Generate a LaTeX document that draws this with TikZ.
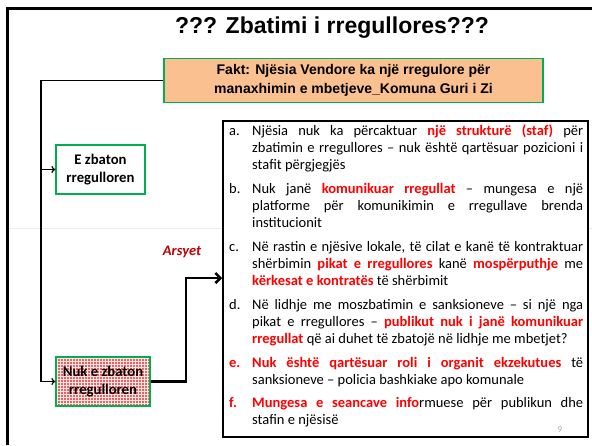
\documentclass[tikz,border=0pt]{standalone}
\usepackage{fontspec}
\setmainfont{Carlito}
\newfontfamily\arialfont{Liberation Sans}
\usetikzlibrary{arrows.meta,patterns}
\definecolor{grn}{RGB}{0,176,80}
\definecolor{peach}{RGB}{250,192,144}
\definecolor{rd}{RGB}{255,0,0}
\definecolor{drd}{RGB}{192,0,0}
\definecolor{pinkred}{RGB}{238,96,96}
\newcommand{\redb}[1]{\textcolor{rd}{\bfseries #1}}
\newcommand{\jl}[1]{\makebox[331pt][s]{#1}}
\tikzset{
  txt/.style={anchor=mid west, inner sep=0pt, font=\fontsize{14.5}{17}\selectfont},
  greenbox/.style={draw=grn, line width=1.2pt, inner sep=0pt, align=center},
  thin/.style={line width=1.2pt, -{To[length=4pt,width=7pt]}},
  thick/.style={line width=2.6pt, -{Straight Barb[length=5pt,width=10pt]}}
}
\begin{document}
\begin{tikzpicture}[x=1pt,y=-1pt]
\useasboundingbox (0,0) rectangle (592,445);
\fill[white] (0,0) rectangle (592,445);
% faint grid line
\draw[gray!15, line width=0.6pt] (7,228) -- (592,228);
% frame
\draw[line width=3pt] (7,445) -- (7,8) -- (592,8);
% title
\node[inner sep=0pt, font=\arialfont\bfseries\fontsize{23}{26}\selectfont] (title) at (332,28) {??? Zbatimi i rregullores???};
% fakt box
\node[greenbox, fill=peach, minimum width=379pt, minimum height=44pt,
      font=\arialfont\bfseries\fontsize{14}{19.7}\selectfont] (fakt) at (353.5,80.5)
      {Fakt: Njësia Vendore ka një rregulore për\\manaxhimin e mbetjeve\_Komuna Guri i Zi};
% E zbaton
\node[greenbox, fill=white, minimum width=89pt, minimum height=49pt,
      font=\bfseries\fontsize{14.7}{18.3}\selectfont] (ez) at (100.5,169.5) {E zbaton\\rregulloren};
% Nuk e zbaton
\fill[pinkred] (56,357) rectangle (150,406);
\fill[pattern=grid, pattern color=white!85!pinkred] (56,357) rectangle (150,406);
\node[greenbox, minimum width=94pt, minimum height=49pt,
      font=\bfseries\fontsize{14.7}{18.3}\selectfont] (nuk) at (103,381.5) {Nuk e zbaton\\rregulloren};
% right box
\node[draw=black, line width=1.5pt, fill=white, minimum width=365pt, minimum height=316pt, inner sep=0pt] (rb) at (405.5,279) {};
% connectors
\coordinate (j1) at (41,80.5);
\coordinate (j2) at (41,169.5);
\coordinate (j3) at (41,381.5);
\draw[line width=1.2pt] (fakt.west) -- (j1) -- (j3);
\draw[thin] (j2) -- (ez.west);
\draw[thin] (j3) -- (nuk.west);
\coordinate (k1) at (186,381.5);
\coordinate (k2) at (186,278);
\coordinate (k3) at (rb.west |- k2);
\draw[thick] (nuk.east) -- (k1) -- (k2) -- (k3);
\node[inner sep=0pt, text=drd, font=\bfseries\itshape\fontsize{14.5}{17}\selectfont] (arsyet) at (182,252) {Arsyet};
% labels
\node[txt] (la) at (229,132.7) {a.};
\node[txt] (lb) at (229,190.7) {b.};
\node[txt] (lc) at (229,248.7) {c.};
\node[txt] (ld) at (229,306.7) {d.};
\node[txt, text=rd, font=\bfseries\fontsize{14.5}{17}\selectfont] (le) at (229,364.7) {e.};
\node[txt, text=rd, font=\bfseries\fontsize{14.5}{17}\selectfont] (lf) at (229,405.3) {f.};
% a
\node[txt] (a1) at (252,132.7) {\jl{Njësia nuk ka përcaktuar \redb{një strukturë (staf)} për}};
\node[txt] (a2) at (252,150) {\jl{zbatimin e rregullores – nuk është qartësuar pozicioni i}};
\node[txt] (a3) at (252,167.3) {stafit përgjegjës};
% b
\node[txt] (b1) at (252,190.7) {\jl{Nuk janë \redb{komunikuar rregullat} – mungesa e një}};
\node[txt] (b2) at (252,208) {\jl{platforme për komunikimin e rregullave brenda}};
\node[txt] (b3) at (252,225.3) {institucionit};
% c
\node[txt] (c1) at (252,248.7) {\jl{Në rastin e njësive lokale, të cilat e kanë të kontraktuar}};
\node[txt] (c2) at (252,266) {\jl{shërbimin \redb{pikat e rregullores} kanë \redb{mospërputhje} me}};
\node[txt] (c3) at (252,283.3) {\redb{kërkesat e kontratës} të shërbimit};
% d
\node[txt] (d1) at (252,306.7) {\jl{Në lidhje me moszbatimin e sanksioneve – si një nga}};
\node[txt] (d2) at (252,324) {\jl{pikat e rregullores – \redb{publikut nuk i janë komunikuar}}};
\node[txt] (d3) at (252,341.3) {\redb{rregullat} që ai duhet të zbatojë në lidhje me mbetjet?};
% e
\node[txt] (e1) at (252,364.7) {\jl{\redb{Nuk është qartësuar roli i organit ekzekutues} të}};
\node[txt] (e2) at (252,382) {sanksioneve – policia bashkiake apo komunale};
% f
\node[txt] (f1) at (252,405.3) {\jl{\redb{Mungesa e seancave info}rmuese për publikun dhe}};
\node[txt] (f2) at (252,422.6) {stafin e njësisë};
% page number
\node[inner sep=0pt, text=gray!70, font=\fontsize{9}{9}\selectfont] (pg) at (560,430) {9};
\end{tikzpicture}
\end{document}
